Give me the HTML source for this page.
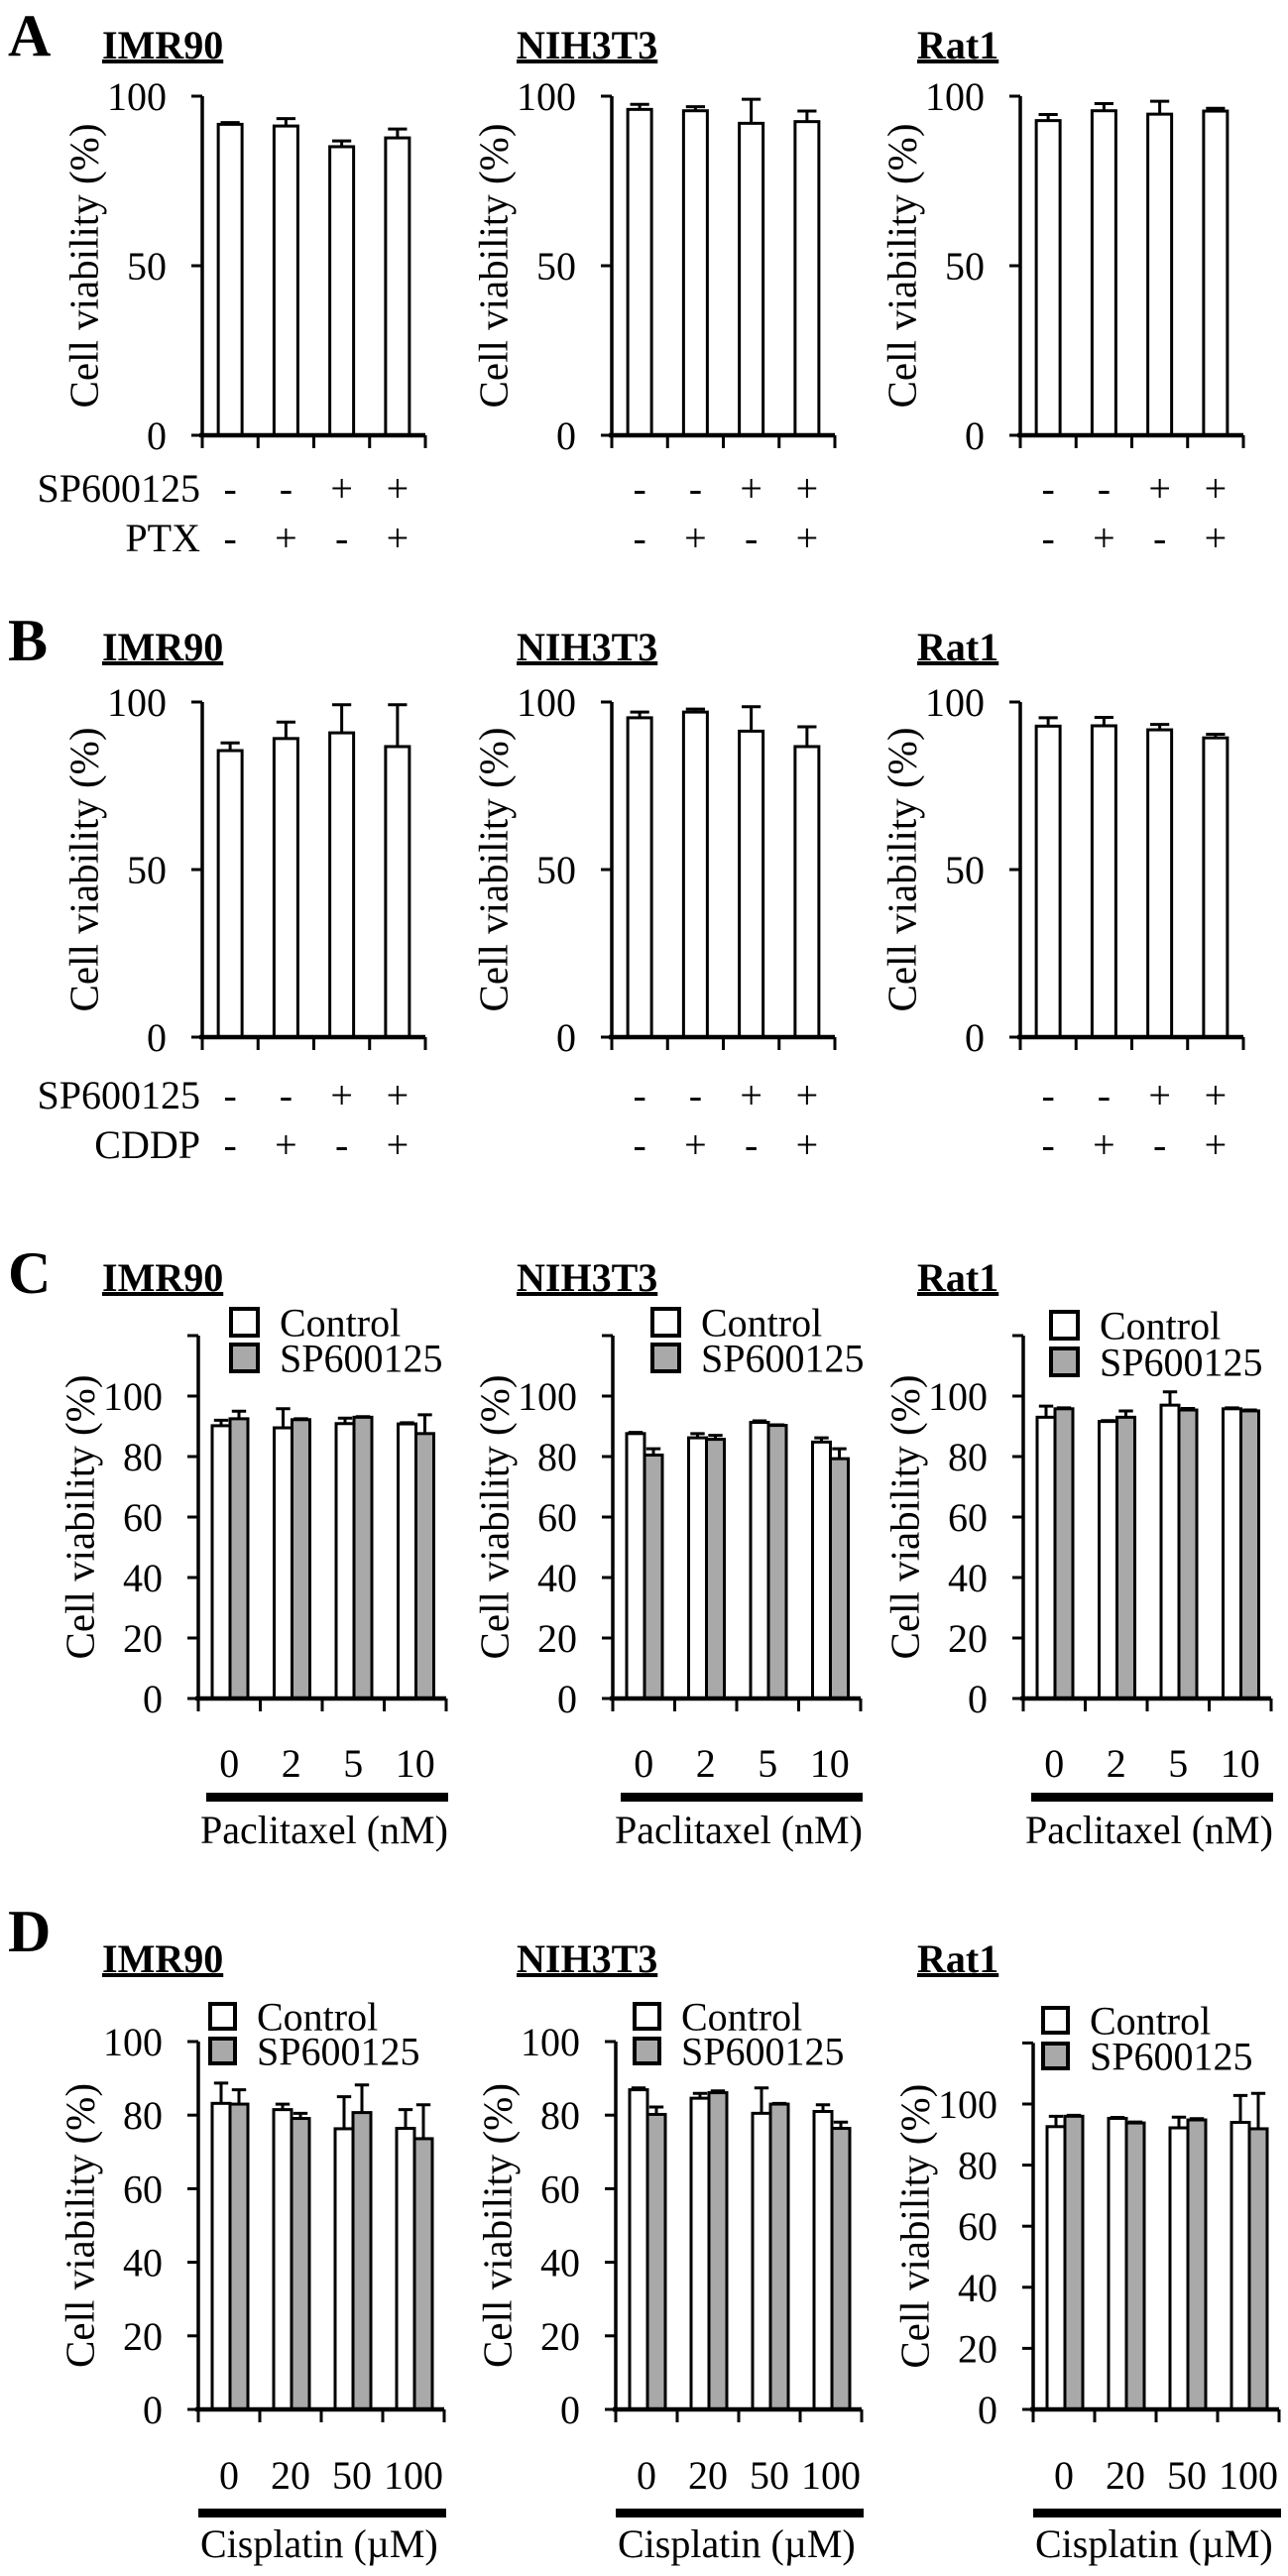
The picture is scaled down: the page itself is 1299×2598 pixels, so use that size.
<!DOCTYPE html>
<html><head><meta charset="utf-8"><style>
html,body{margin:0;padding:0;background:#fff;}
svg{display:block;font-family:"Liberation Serif","Times New Roman",serif;}
</style></head><body>
<svg id="fig" width="1299" height="2598" viewBox="0 0 1299 2598" xmlns="http://www.w3.org/2000/svg"></svg>
<script>
// ---- data ----
const cellLines = ["IMR90","NIH3T3","Rat1"];
const signsSP = ["-","-","+","+"];
const signsDrug = ["-","+","-","+"];
const paclitaxelDoses = ["0","2","5","10"];
const cisplatinDoses = ["0","20","50","100"];

const A_IMR90 = [91.7,91.2,85.1,87.7];   const A_IMR90_err = [0.5,2.2,1.7,2.6];
const A_NIH3T3 = [96.1,95.7,92.0,92.5];  const A_NIH3T3_err = [1.5,1.2,7.1,3.1];
const A_Rat1 = [92.8,95.7,94.7,95.6];    const A_Rat1_err = [1.8,2.1,3.8,0.8];

const B_IMR90 = [85.5,89.1,90.8,86.7];   const B_IMR90_err = [2.3,4.9,8.4,12.5];
const B_NIH3T3 = [95.3,97.0,91.3,86.7];  const B_NIH3T3_err = [1.7,0.9,7.3,5.9];
const B_Rat1 = [92.8,92.9,91.7,89.3];    const B_Rat1_err = [2.5,2.5,1.6,1.1];

const C_IMR90_ctrl = [90.2,89.5,90.9,90.8]; const C_IMR90_ctrlErr = [1.8,6.3,1.8,0.4];
const C_IMR90_sp = [92.5,92.2,93.0,87.6];   const C_IMR90_spErr = [2.5,0.3,0.2,6.2];
const C_NIH3T3_ctrl = [87.6,86.2,91.3,84.8]; const C_NIH3T3_ctrlErr = [0.4,1.4,0.5,1.4];
const C_NIH3T3_sp = [80.5,85.7,90.3,79.3];   const C_NIH3T3_spErr = [2.1,1.3,0.2,3.3];
const C_Rat1_ctrl = [93.0,91.6,97.0,95.8];   const C_Rat1_ctrlErr = [3.7,0.3,4.4,0.3];
const C_Rat1_sp = [95.8,93.0,95.4,95.1];     const C_Rat1_spErr = [0.3,2.1,0.5,0.3];

const D_IMR90_ctrl = [83.2,81.5,76.3,76.4]; const D_IMR90_ctrlErr = [5.5,1.5,8.7,5.1];
const D_IMR90_sp = [83.0,79.1,80.7,73.6];   const D_IMR90_spErr = [3.9,1.4,7.5,9.2];
const D_NIH3T3_ctrl = [86.9,84.6,80.5,81.0]; const D_NIH3T3_ctrlErr = [0.5,1.3,6.9,1.8];
const D_NIH3T3_sp = [80.2,86.1,83.0,76.4];   const D_NIH3T3_spErr = [2.0,0.5,0.2,1.7];
const D_Rat1_ctrl = [92.6,95.3,92.2,94.0];   const D_Rat1_ctrlErr = [3.4,0.3,3.5,8.8];
const D_Rat1_sp = [96.0,93.8,94.8,91.9];     const D_Rat1_spErr = [0.3,0.3,0.4,11.6];

const ticksAB = [0,50,100];
const ticksCD = [0,20,40,60,80,100];

// ---- layout ----
const NS = "http://www.w3.org/2000/svg";
const svg = document.getElementById("fig");
function mk(tag, attrs, parent) {
  const e = document.createElementNS(NS, tag);
  for (const k in attrs) e.setAttribute(k, attrs[k]);
  (parent || svg).appendChild(e);
  return e;
}
function txt(str, x, y, size, opts, parent) {
  const t = mk("text", Object.assign({x: x, y: y, "font-size": size, fill: "#000"}, opts || {}), parent);
  t.textContent = str;
  return t;
}

// panel letters
const letters = [["A",35],["B",645],["C",1283],["D",1947]];
letters.forEach(([L, cy]) => {
  const t = txt(L, 8, cy, 60, {"font-weight": "bold", dy: "0.35em"});
  
  
});

function title(name, x, cy, panel) {
  const t = txt(name, x, cy, 40, {"font-weight": "bold", dy: "0.35em"});
  
  
  const w = t.getComputedTextLength();
  const u = mk("rect", {x: x, y: cy + 15, width: w, height: 4, fill: "#000"});
  
  
}

function chart(cfg) {
  const g = mk("g", {});
  
  
  const ax = cfg.axisX, y0 = cfg.y0, k = cfg.pxPerUnit, gw = cfg.groupW;
  const yS = v => y0 - v * k;
  const n = 4;
  // bars
  function bar(x, w, v, e, fill, nm) {
    const r = mk("rect", {x: x, y: yS(v), width: w, height: y0 - yS(v), fill: fill, stroke: "#000", "stroke-width": 3}, g);
    
    
    const cx = x + w / 2, cw = w * 0.8;
    const eb = mk("path", {d: `M${cx},${yS(v)}V${yS(v + e)}M${cx - cw / 2},${yS(v + e)}H${cx + cw / 2}`, stroke: "#000", "stroke-width": 3, fill: "none"}, g);
    
    
  }
  for (let i = 0; i < n; i++) {
    const gx = ax + i * gw;
    if (cfg.type === "single") {
      bar(gx + (gw - 24) / 2, 24, cfg.vals[i], cfg.errs[i], "#fff", 'bar-' + (i + 1));
    } else {
      bar(gx + 14, 18, cfg.ctrl[i], cfg.ctrlErr[i], "#fff", 'bar-control-' + (i + 1));
      bar(gx + 32, 18, cfg.sp[i], cfg.spErr[i], "#a9a9a9", 'bar-sp600125-' + (i + 1));
    }
  }
  // axes
  const topY = yS(cfg.axisMax);
  const ya = mk("path", {d: `M${ax},${y0}V${topY}`, stroke: "#000", "stroke-width": 3.5, fill: "none"}, g);
  
  
  const tickVals = cfg.ticks.concat(cfg.axisMax > 100 ? [cfg.axisMax] : []);
  tickVals.forEach(v => {
    const tk = mk("path", {d: `M${ax - 11},${yS(v)}H${ax}`, stroke: "#000", "stroke-width": 3}, g);
    
    
  });
  cfg.ticks.forEach(v => {
    const t = txt(String(v), ax - 36, yS(v), 40, {"text-anchor": "end", dy: "0.35em"}, g);
    
    
  });
  const xa = mk("path", {d: `M${ax - 3},${y0}H${ax + n * gw}`, stroke: "#000", "stroke-width": 4.5, fill: "none"}, g);
  
  
  for (let i = 0; i <= n; i++) {
    const tk = mk("path", {d: `M${ax + i * gw},${y0}v13`, stroke: "#000", "stroke-width": 3}, g);
    
    
  }
  const cy = (y0 + topY) / 2;
  const yl = txt("Cell viability (%)", 0, 0, 41, {"text-anchor": "middle", dy: "0.35em", transform: `translate(${ax - 120},${cy}) rotate(-90)`}, g);
  
  

  // legend
  if (cfg.legend) {
    const L = cfg.legend;
    [["Control", "#fff", L.y1], ["SP600125", "#a9a9a9", L.y2]].forEach(([lab, fill, ly]) => {
      const r = mk("rect", {x: L.x, y: ly, width: L.s, height: L.s, fill: fill, stroke: "#000", "stroke-width": 4}, g);
      
      
      const t = txt(lab, L.x + L.s + 22, ly + L.s / 2, 40, {dy: "0.35em"}, g);
      
      
    });
  }
  // treatment signs (A/B)
  if (cfg.signs) {
    const rows = [[signsSP, cfg.signs.y1, "SP600125"], [signsDrug, cfg.signs.y2, cfg.signs.drug]];
    rows.forEach(([arr, ry, lab]) => {
      if (cfg.showRowLabels) {
        const t = txt(lab, ax - 2, ry, 40, {"text-anchor": "end", dy: "0.35em"}, g);
        
        
      }
      arr.forEach((s, i) => {
        const t = txt(s, ax + i * gw + gw / 2, ry, 40, {"text-anchor": "middle", dy: "0.35em"}, g);
        
        
      });
    });
  }
  // dose labels (C/D)
  if (cfg.doses) {
    cfg.doses.labels.forEach((s, i) => {
      const t = txt(s, ax + i * gw + gw / 2, cfg.doses.y, 40, {"text-anchor": "middle", dy: "0.35em"}, g);
      
      
    });
    const b = mk("rect", {x: ax + cfg.doses.barDx, y: cfg.doses.barY, width: n * gw - cfg.doses.barDx + 2, height: 9, fill: "#000"}, g);
    
    
    const t = txt(cfg.doses.name, ax + cfg.doses.nameDx, cfg.doses.nameY, 40, {dy: "0.35em"}, g);
    
    
  }
}

// Titles
const titleX = [103, 521, 925];
[["A",45],["B",652],["C",1288],["D",1975]].forEach(([p, cy]) => {
  cellLines.forEach((c, i) => title(c, titleX[i], cy, p.toLowerCase()));
});

// Panel A
const axA = [204, 617, 1029];
const dataA = [[A_IMR90, A_IMR90_err], [A_NIH3T3, A_NIH3T3_err], [A_Rat1, A_Rat1_err]];
dataA.forEach((d, i) => chart({id: "a-" + cellLines[i].toLowerCase(), type: "single", axisX: axA[i], y0: 439, pxPerUnit: 3.42, groupW: 56.25, axisMax: 100, ticks: ticksAB, vals: d[0], errs: d[1], signs: {y1: 492, y2: 542, drug: "PTX"}, showRowLabels: i === 0}));

// Panel B
const dataB = [[B_IMR90, B_IMR90_err], [B_NIH3T3, B_NIH3T3_err], [B_Rat1, B_Rat1_err]];
dataB.forEach((d, i) => chart({id: "b-" + cellLines[i].toLowerCase(), type: "single", axisX: axA[i], y0: 1046, pxPerUnit: 3.38, groupW: 56.25, axisMax: 100, ticks: ticksAB, vals: d[0], errs: d[1], signs: {y1: 1104, y2: 1154, drug: "CDDP"}, showRowLabels: i === 0}));

// Panel C
const axC = [200, 618, 1032];
const legC = [{x: 233, y1: 1320, y2: 1356, s: 27}, {x: 658, y1: 1320, y2: 1356, s: 27}, {x: 1060, y1: 1323, y2: 1360, s: 27}];
const dataC = [[C_IMR90_ctrl, C_IMR90_ctrlErr, C_IMR90_sp, C_IMR90_spErr], [C_NIH3T3_ctrl, C_NIH3T3_ctrlErr, C_NIH3T3_sp, C_NIH3T3_spErr], [C_Rat1_ctrl, C_Rat1_ctrlErr, C_Rat1_sp, C_Rat1_spErr]];
dataC.forEach((d, i) => chart({id: "c-" + cellLines[i].toLowerCase(), type: "pair", axisX: axC[i], y0: 1713, pxPerUnit: 3.05, groupW: 62.5, axisMax: 120, ticks: ticksCD, ctrl: d[0], ctrlErr: d[1], sp: d[2], spErr: d[3], legend: legC[i], doses: {labels: paclitaxelDoses, y: 1778, barY: 1808, barDx: 8, name: "Paclitaxel (nM)", nameY: 1845, nameDx: 2}}));

// Panel D
const axD = [200, 621, 1042];
const legD = [{x: 212, y1: 2021, y2: 2056, s: 25}, {x: 640, y1: 2021, y2: 2056, s: 25}, {x: 1052, y1: 2025, y2: 2061, s: 25}];
const dataD = [[D_IMR90_ctrl, D_IMR90_ctrlErr, D_IMR90_sp, D_IMR90_spErr], [D_NIH3T3_ctrl, D_NIH3T3_ctrlErr, D_NIH3T3_sp, D_NIH3T3_spErr], [D_Rat1_ctrl, D_Rat1_ctrlErr, D_Rat1_sp, D_Rat1_spErr]];
const pxD = [3.71, 3.71, 3.08];
const maxD = [100, 100, 120];
dataD.forEach((d, i) => chart({id: "d-" + cellLines[i].toLowerCase(), type: "pair", axisX: axD[i], y0: 2430, pxPerUnit: pxD[i], groupW: 62, axisMax: maxD[i], ticks: ticksCD, ctrl: d[0], ctrlErr: d[1], sp: d[2], spErr: d[3], legend: legD[i], doses: {labels: cisplatinDoses, y: 2496, barY: 2530, barDx: 0, name: "Cisplatin (\u00b5M)", nameY: 2565, nameDx: 2}}));
</script>
</body></html>
